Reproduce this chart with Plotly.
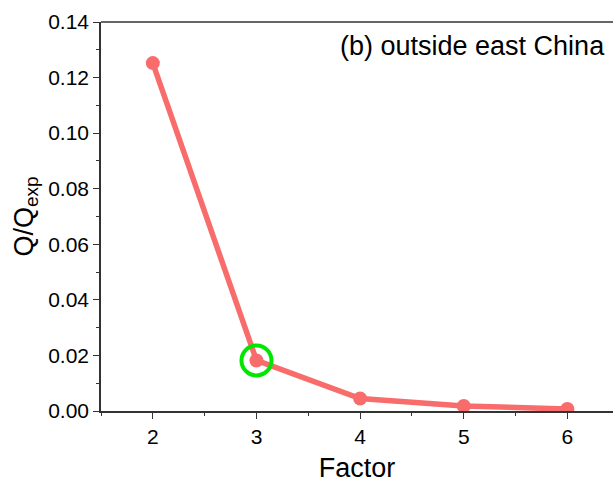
import plotly.graph_objects as go

factors = [2, 3, 4, 5, 6]
q_ratio = [0.1252, 0.0182, 0.0045, 0.0018, 0.0007]
highlight_x = [3]
highlight_y = [0.0182]
panel_label = "(b) outside east China"

red = "rgb(248,108,108)"
green = "rgb(0,230,0)"
font = "Liberation Sans, Arial, sans-serif"

fig = go.Figure()
fig.add_trace(go.Scatter(
    x=factors, y=q_ratio, mode="lines+markers",
    line=dict(color=red, width=5.5),
    marker=dict(color=red, size=14),
    showlegend=False, hoverinfo="skip"))
fig.add_trace(go.Scatter(
    x=highlight_x, y=highlight_y, mode="markers",
    marker=dict(symbol="circle-open", size=30, color=green, line=dict(width=4, color=green)),
    showlegend=False, hoverinfo="skip"))

fig.add_annotation(text=panel_label, x=1, xref="paper", xanchor="right",
                   y=1, yref="paper", yanchor="middle", yshift=-24, xshift=-6,
                   showarrow=False, font=dict(family=font, size=27, color="black"))

fig.update_layout(
    width=613, height=483,
    margin=dict(l=101, r=0, t=22, b=72),
    plot_bgcolor="white", paper_bgcolor="white",
    font=dict(family=font, color="black"),
    xaxis=dict(range=[1.5, 6.44], tickvals=[2, 3, 4, 5, 6], ticks="outside", ticklen=6,
               tickwidth=1.3, tickcolor="#333", showline=True, linecolor="#333", linewidth=1.5,
               mirror=False, showgrid=False, zeroline=False,
               tickfont=dict(size=21, family=font),
               minor=dict(tickvals=[1.5, 2.5, 3.5, 4.5, 5.5], ticks="outside", ticklen=3,
                          tickwidth=1.3, tickcolor="#333"),
               title=dict(text="Factor", font=dict(size=27, family=font), standoff=11)),
    yaxis=dict(range=[0, 0.14], tickvals=[0, 0.02, 0.04, 0.06, 0.08, 0.10, 0.12, 0.14],
               tickformat=".2f", ticks="outside", ticklen=6, tickwidth=1.3, tickcolor="#333",
               showline=True, linecolor="#333", linewidth=1.5, showgrid=False, zeroline=False,
               tickfont=dict(size=21, family=font),
               minor=dict(tickvals=[0.01, 0.03, 0.05, 0.07, 0.09, 0.11, 0.13], ticks="outside",
                          ticklen=3, tickwidth=1.3, tickcolor="#333"),
               title=dict(text="Q/Q<sub>exp</sub>", font=dict(size=27, family=font), standoff=7)),
)
# top border line
fig.add_shape(type="line", xref="paper", yref="paper", x0=0, x1=1, y0=1, y1=1,
              line=dict(color="#333", width=1.5))

fig.write_html("out.html")
